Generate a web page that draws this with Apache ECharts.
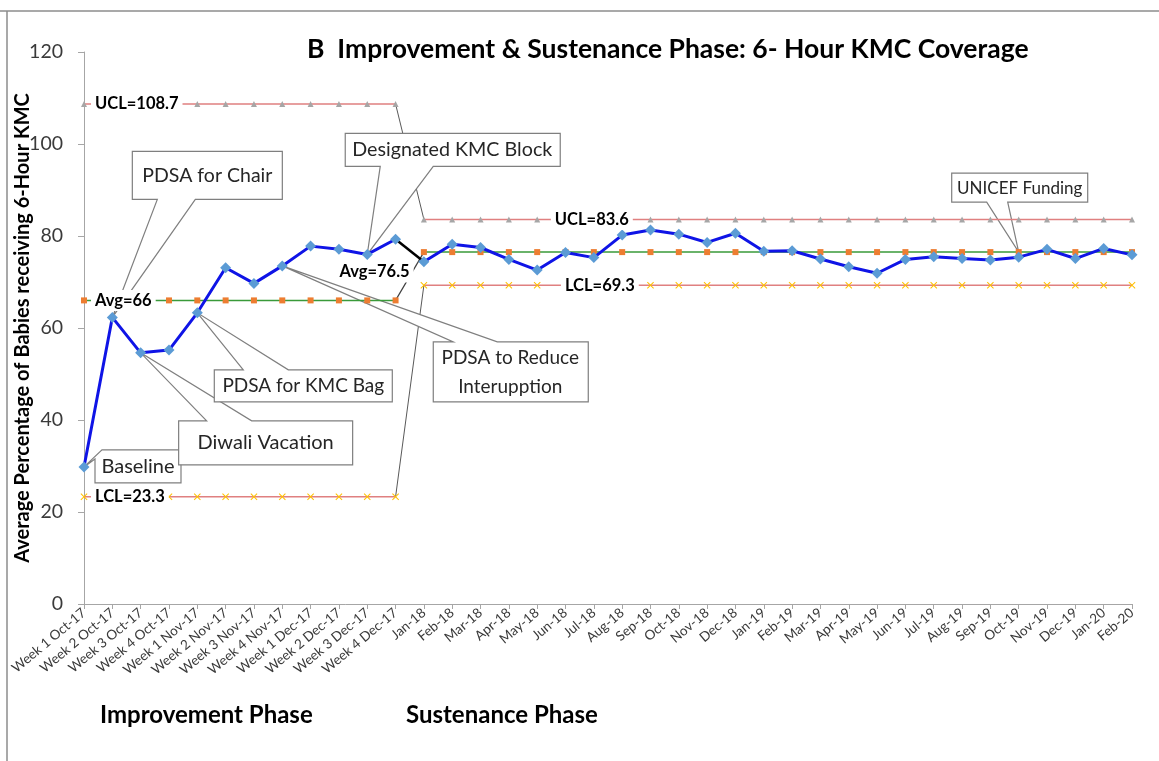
<!DOCTYPE html>
<html><head><meta charset="utf-8">
<script src="https://cdn.jsdelivr.net/npm/echarts@6/dist/echarts.min.js"></script>
<style>html,body{margin:0;padding:0;background:#fff}#c{width:1159px;height:761px}</style>
</head><body><div id="c"></div>
<script>
// ---------- DATA ----------
const improvementWeeks = ['Week 1 Oct-17','Week 2 Oct-17','Week 3 Oct-17','Week 4 Oct-17','Week 1 Nov-17','Week 2 Nov-17','Week 3 Nov-17','Week 4 Nov-17','Week 1 Dec-17','Week 2 Dec-17','Week 3 Dec-17','Week 4 Dec-17'];
const sustenanceMonths = ['Jan-18','Feb-18','Mar-18','Apr-18','May-18','Jun-18','Jul-18','Aug-18','Sep-18','Oct-18','Nov-18','Dec-18','Jan-19','Feb-19','Mar-19','Apr-19','May-19','Jun-19','Jul-19','Aug-19','Sep-19','Oct-19','Nov-19','Dec-19','Jan-20','Feb-20'];
const improvementValues = [29.8, 62.3, 54.6, 55.2, 63.3, 73.1, 69.7, 73.5, 77.8, 77.1, 76.0, 79.3];
const sustenanceValues = [74.4, 78.2, 77.5, 74.9, 72.6, 76.4, 75.3, 80.2, 81.3, 80.4, 78.6, 80.6, 76.7, 76.8, 75.0, 73.3, 71.9, 74.9, 75.5, 75.1, 74.8, 75.4, 77.1, 75.1, 77.3, 75.9];
const uclValues = [108.7, 83.6];   // improvement, sustenance
const avgValues = [66, 76.5];
const lclValues = [23.3, 69.3];
const yTicks = [0, 20, 40, 60, 80, 100, 120];
const titleText = 'B  Improvement & Sustenance Phase: 6- Hour KMC Coverage';
const yAxisTitle = 'Average Percentage of Babies receiving 6-Hour KMC';
const phaseNames = ['Improvement Phase', 'Sustenance Phase'];

// ---------- BUILD ----------
const categories = improvementWeeks.concat(sustenanceMonths);
const n1 = improvementWeeks.length, N = categories.length;
const FONT = 'Lato';

function phaseArr(vals, phase) {
  const a = new Array(N).fill(null);
  if (phase === 0) vals.forEach((v, i) => a[i] = v);
  else vals.forEach((v, i) => a[n1 + i] = v);
  return a;
}
function constArr(v, phase) {
  const len = phase === 0 ? n1 : N - n1;
  return phaseArr(new Array(len).fill(v), phase);
}
function connArr(a, b) {
  const arr = new Array(N).fill(null);
  arr[n1 - 1] = a; arr[n1] = b; return arr;
}
const xPath = 'path://M0,1L1,0L5,4L9,0L10,1L6,5L10,9L9,10L5,6L1,10L0,9L4,5Z';
const lblStyle = { show: true, fontFamily: FONT, fontWeight: 'bold', fontSize: 16.5, color: '#000',
  backgroundColor: '#fff', padding: [2, 4] };

function limitSeries(name, vals, phase, lineColor, symbol, symColor, symSize, lbl) {
  const s = {
    name: name, type: 'line', data: constArr(vals[phase], phase), z: 3,
    lineStyle: { color: lineColor, width: 1.5 }, symbol: symbol, symbolSize: symSize,
    showAllSymbol: true, itemStyle: { color: symColor }, emphasis: { disabled: true }
  };
  if (lbl) {
    s.markPoint = { symbol: 'circle', symbolSize: 0, silent: true,
      data: [{ coord: lbl.coord, label: Object.assign({}, lblStyle, { formatter: lbl.text, position: lbl.position, distance: lbl.distance || 0, offset: lbl.offset || [0, 0] }) }] };
  }
  return s;
}
function connSeries(vals, color, width) {
  return { type: 'line', data: connArr(vals[0], vals[1]), symbol: 'none', z: 2,
    lineStyle: { color: color, width: width }, emphasis: { disabled: true } };
}

const series = [
  connSeries(uclValues, '#595959', 1),
  connSeries(avgValues, '#404040', 1.2),
  connSeries(lclValues, '#595959', 1),
  limitSeries('UCL1', uclValues, 0, '#e08080', 'triangle', '#a6a6a6', 6, { coord: [0, uclValues[0]], text: 'UCL=' + uclValues[0], position: 'right', distance: 7 }),
  limitSeries('UCL2', uclValues, 1, '#e08080', 'triangle', '#a6a6a6', 6, { coord: [18, uclValues[1]], text: 'UCL=' + uclValues[1], position: 'inside', offset: [-2, 0] }),
  limitSeries('AVG1', avgValues, 0, '#3a9a3a', 'rect', '#ed7d31', 6, { coord: [0, avgValues[0]], text: 'Avg=' + avgValues[0], position: 'right', distance: 7 }),
  limitSeries('AVG2', avgValues, 1, '#3a9a3a', 'rect', '#ed7d31', 6, { coord: [11, avgValues[1]], text: 'Avg=' + avgValues[1], position: 'inside', offset: [-21, 20] }),
  limitSeries('LCL1', lclValues, 0, '#e08080', xPath, '#ffc000', 7, { coord: [0, lclValues[0]], text: 'LCL=' + lclValues[0], position: 'right', distance: 7 }),
  limitSeries('LCL2', lclValues, 1, '#e08080', xPath, '#ffc000', 7, { coord: [18, lclValues[1]], text: 'LCL=' + lclValues[1], position: 'inside', offset: [6, 0] }),
  { type: 'line', data: connArr(improvementValues[n1 - 1], sustenanceValues[0]), symbol: 'none', z: 4,
    lineStyle: { color: '#000', width: 2.5 }, emphasis: { disabled: true } },
  { type: 'line', data: phaseArr(improvementValues, 0), z: 4, symbol: 'diamond', symbolSize: 11, showAllSymbol: true,
    lineStyle: { color: '#0f14e6', width: 3 }, itemStyle: { color: '#5b9bd5' }, emphasis: { disabled: true } },
  { type: 'line', data: phaseArr(sustenanceValues, 1), z: 4, symbol: 'diamond', symbolSize: 11, showAllSymbol: true,
    lineStyle: { color: '#0f14e6', width: 3 }, itemStyle: { color: '#5b9bd5' }, emphasis: { disabled: true } }
];

const chart = echarts.init(document.getElementById('c'), null, { renderer: 'canvas' });
chart.setOption({
  animation: false,
  backgroundColor: '#fff',
  title: { text: titleText, left: 302, top: 31, textStyle: { fontFamily: FONT, fontWeight: 'bold', fontSize: 26.5, color: '#000' } },
  grid: { left: 84, right: 27, top: 52, bottom: 157, containLabel: false, outerBoundsMode: 'none' },
  xAxis: {
    type: 'category', data: categories, boundaryGap: false,
    axisLine: { lineStyle: { color: '#a6a6a6' } },
    axisTick: { show: true, length: 5, interval: 0, lineStyle: { color: '#a6a6a6' } },
    axisLabel: { interval: 0, rotate: 40, margin: 7, fontFamily: FONT, fontSize: 13.5, color: '#3a3a3a' }
  },
  yAxis: {
    type: 'value', min: yTicks[0], max: yTicks[yTicks.length - 1], interval: yTicks[1] - yTicks[0],
    name: yAxisTitle, nameLocation: 'middle', nameGap: 51, nameRotate: 90, nameMoveOverlap: false,
    nameTextStyle: { fontFamily: FONT, fontWeight: 'bold', fontSize: 20, color: '#000' },
    axisLine: { show: true, lineStyle: { color: '#a6a6a6' } },
    axisTick: { show: true, length: 6, lineStyle: { color: '#a6a6a6' } },
    splitLine: { show: false },
    axisLabel: { margin: 21, fontFamily: FONT, fontSize: 19.5, color: '#3a3a3a' }
  },
  series: series
});

// ---------- CALLOUTS (positions relative to the pointed data point, in px) ----------
const callouts = [
  { text: 'Baseline', size: 20, at: [0, improvementValues[0]], textAt: [54, 0],
    poly: [[0,0],[11,-8],[11,16],[97,16],[97,-17],[18,-17]] },
  { text: 'PDSA for Chair', size: 19.5, at: [1, improvementValues[1]], textAt: [95, -142],
    poly: [[20,-166],[170,-166],[170,-118],[83,-118],[0,0],[45,-118],[20,-118]] },
  { text: 'Diwali Vacation', size: 20, at: [2, improvementValues[2]], textAt: [125, 90],
    poly: [[38,68],[66,68],[0,0],[111,68],[212,68],[212,112],[38,112]] },
  { text: 'PDSA for KMC Bag', size: 19, at: [4, improvementValues[4]], textAt: [106, 73],
    poly: [[17,57],[46,57],[0,0],[91,57],[195,57],[195,89],[17,89]] },
  { text: 'PDSA to Reduce\nInterupption', size: 19, at: [7, improvementValues[7]], textAt: [228, 106],
    poly: [[151,76],[171,76],[0,0],[215,76],[306,76],[306,136],[151,136]] },
  { text: 'Designated KMC Block', size: 19.7, at: [10, improvementValues[10]], textAt: [85, -105],
    poly: [[-22,-121],[193,-121],[193,-88],[66,-88],[0,0],[13,-88],[-22,-88]] },
  { text: 'UNICEF Funding', size: 17, at: [n1 + 21, avgValues[1]], textAt: [1, -64],
    poly: [[-67,-79],[69,-79],[69,-50],[-11,-50],[0,0],[-32,-50],[-67,-50]] }
];

const els = [
  { type: 'line', shape: { x1: 0, y1: 11, x2: 1159, y2: 11 }, style: { stroke: '#8c8c8c', lineWidth: 1.5 }, z: 10 },
  { type: 'line', shape: { x1: 7, y1: 11, x2: 7, y2: 761 }, style: { stroke: '#8c8c8c', lineWidth: 1.5 }, z: 10 },
  { type: 'text', left: 100, top: 703, style: { text: phaseNames[0], font: 'bold 24px ' + FONT, fill: '#000' }, z: 10 },
  { type: 'text', left: 406, top: 703, style: { text: phaseNames[1], font: 'bold 24px ' + FONT, fill: '#000' }, z: 10 }
];
callouts.forEach(c => {
  const p = chart.convertToPixel({ xAxisIndex: 0, yAxisIndex: 0 }, c.at);
  els.push({ type: 'polygon', z: 2.5, shape: { points: c.poly.map(q => [p[0] + q[0], p[1] + q[1]]) },
    style: { fill: '#fff', stroke: '#7f7f7f', lineWidth: 1.2 } });
  els.push({ type: 'text', z: 2.6, x: p[0] + c.textAt[0], y: p[1] + c.textAt[1],
    style: { text: c.text, font: c.size + 'px ' + FONT, fill: '#262626', align: 'center', verticalAlign: 'middle',
      textAlign: 'center', textVerticalAlign: 'middle', lineHeight: 29 } });
});
chart.setOption({ graphic: { elements: els } });
</script>
</body></html>
